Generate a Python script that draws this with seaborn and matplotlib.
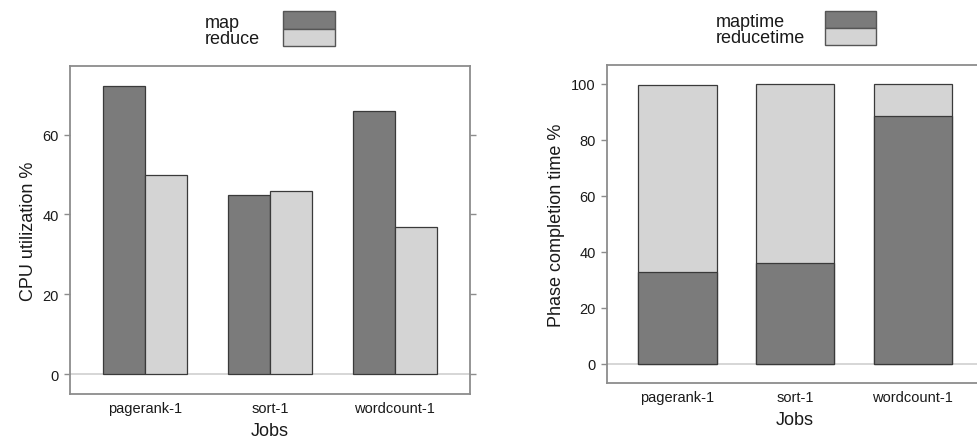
import matplotlib
matplotlib.use("Agg")
import matplotlib.pyplot as plt
import seaborn as sns
import pandas as pd
from matplotlib.patches import Rectangle

jobs = ["pagerank-1", "sort-1", "wordcount-1"]
cpu_map = [72.1, 44.9, 66.0]
cpu_reduce = [49.8, 45.9, 36.9]
time_map = [32.7, 36.0, 88.5]
time_reduce = [66.7, 63.8, 11.4]

DARK = "#7b7b7b"
LIGHT = "#d4d4d4"
EDGE = "#3a3a3a"
FRAME = "#8c8c8c"
TXT = "#1a1a1a"

sns.set_theme(style="white")
plt.rcParams["font.family"] = ["Liberation Sans", "DejaVu Sans"]

W, H = 977, 439
fig = plt.figure(figsize=(9.77, 4.39), dpi=100)
ax1 = fig.add_axes([0.0716, 0.1002, 0.4094, 0.7472])
ax2 = fig.add_axes([0.621, 0.1246, 0.3857, 0.7257])

df1 = pd.DataFrame({
    "job": jobs * 2,
    "phase": ["map"] * 3 + ["reduce"] * 3,
    "value": cpu_map + cpu_reduce,
})
ax1.axhline(0, color="#d0d0d0", lw=1.2, zorder=0)
sns.barplot(data=df1, x="job", y="value", hue="phase", palette=[DARK, LIGHT],
            saturation=1, width=0.674, gap=0, edgecolor=EDGE, linewidth=0.9,
            legend=False, ax=ax1, zorder=2)
ax1.set_xlim(-0.604, 2.604)
ax1.set_ylim(-5.0, 77.2)
ax1.set_yticks([0, 20, 40, 60])
ax1.tick_params(axis="y", which="both", left=True, right=True, labelright=False,
                length=4.5, width=1, color=FRAME, labelsize=10.5, pad=3.5,
                direction="out", labelcolor=TXT)
ax1.tick_params(axis="x", length=0, labelsize=10.5, pad=5, labelcolor=TXT)
ax1.set_xlabel("Jobs", fontsize=13, labelpad=5, color=TXT)
ax1.set_ylabel("CPU utilization %", fontsize=13, labelpad=4, color=TXT)

totals = [m + r for m, r in zip(time_map, time_reduce)]
df_tot = pd.DataFrame({"job": jobs, "value": totals})
df_map = pd.DataFrame({"job": jobs, "value": time_map})
ax2.axhline(0, color="#d0d0d0", lw=1.2, zorder=0)
sns.barplot(data=df_tot, x="job", y="value", color=LIGHT, saturation=1, width=0.666,
            edgecolor=EDGE, linewidth=0.9, ax=ax2, zorder=2)
sns.barplot(data=df_map, x="job", y="value", color=DARK, saturation=1, width=0.666,
            edgecolor=EDGE, linewidth=0.9, ax=ax2, zorder=3)
ax2.set_xlim(-0.602, 2.602)
ax2.set_ylim(-6.9, 106.8)
ax2.set_yticks([0, 20, 40, 60, 80, 100])
ax2.tick_params(axis="y", left=True, length=4.5, width=1, color=FRAME, labelsize=10.5,
                pad=3.5, direction="out", labelcolor=TXT)
ax2.tick_params(axis="x", length=0, labelsize=10.5, pad=5, labelcolor=TXT)
ax2.set_xlabel("Jobs", fontsize=13, labelpad=5, color=TXT)
ax2.set_ylabel("Phase completion time %", fontsize=13, labelpad=4, color=TXT)

for ax in (ax1, ax2):
    for s in ax.spines.values():
        s.set_color(FRAME)
        s.set_linewidth(1.3)
        s.set_visible(True)


def draw_legend(labels, text_x, box_x0, box_x1, box_ys, baselines):
    colors = [DARK, LIGHT]
    for lab, col, (y0, y1), yb in zip(labels, colors, box_ys, baselines):
        fig.patches.append(Rectangle((box_x0 / W, 1 - y1 / H), (box_x1 - box_x0) / W,
                                     (y1 - y0) / H, transform=fig.transFigure,
                                     facecolor=col, edgecolor="#555555", lw=1.0))
        fig.text(text_x / W, 1 - yb / H, lab, fontsize=13, ha="left", va="baseline",
                 color=TXT)


draw_legend(["map", "reduce"], 205, 282.7, 335, [(12, 30), (30, 47)], [28.3, 44.3])
draw_legend(["maptime", "reducetime"], 715.7, 825, 875.7, [(12, 29), (29, 46)],
            [27.0, 43.3])

fig.savefig("out.png", dpi=100)
